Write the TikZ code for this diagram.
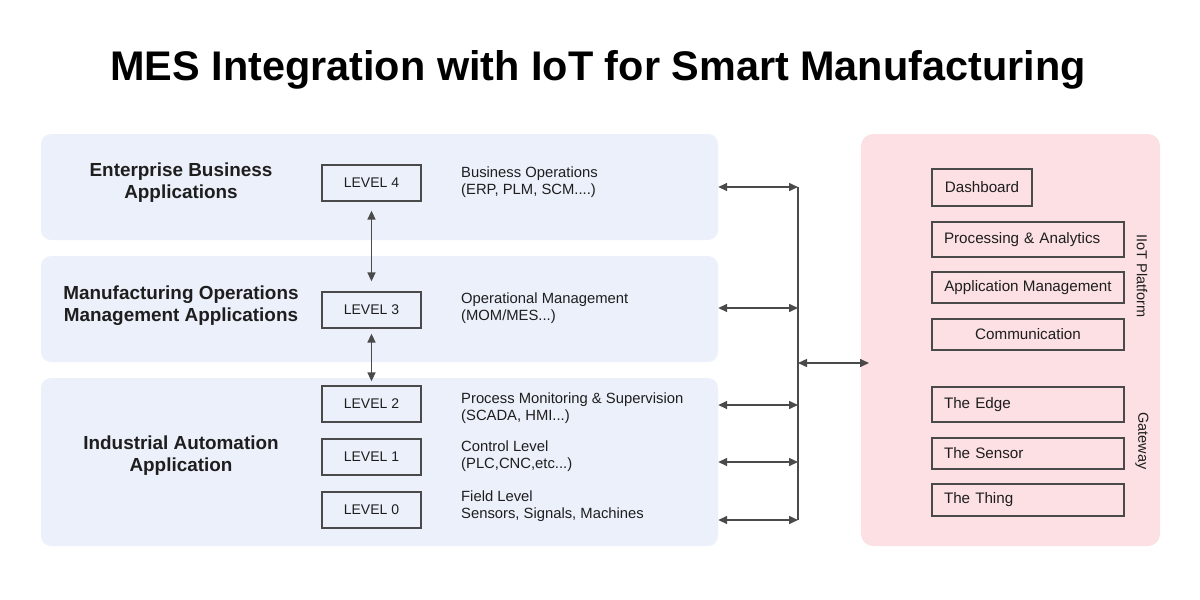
\documentclass[tikz,border=0pt]{standalone}
\usepackage{fontspec}
\setmainfont{Liberation Sans}
\usetikzlibrary{arrows.meta}
\definecolor{panelblue}{HTML}{EBF0FA}
\definecolor{panelpink}{HTML}{FCE0E3}
\definecolor{ink}{HTML}{1E1E1E}
\definecolor{edge}{HTML}{4A4A4A}
\tikzset{
  x=1pt,y=-1pt,
  panel/.style={fill=panelblue,draw=none,rounded corners=10pt,inner sep=0pt},
  pinkpanel/.style={fill=panelpink,draw=none,rounded corners=12pt,inner sep=0pt},
  levelbox/.style={draw=edge,line width=1.3pt,fill=none,minimum width=99pt,minimum height=36pt,inner sep=0pt,font=\fontsize{14}{16}\selectfont,text=ink},
  desc/.style={anchor=west,align=left,inner sep=0pt,font=\fontsize{14.8}{16.5}\selectfont,text=ink},
  grouplabel/.style={align=center,inner sep=0pt,font=\bfseries\fontsize{18.9}{22}\selectfont,text=ink},
  iotbox/.style={draw=edge,line width=1.3pt,inner sep=0pt,font=\fontsize{15.2}{17}\selectfont,text=ink},
  sidelabel/.style={rotate=-90,inner sep=0pt,font=\fontsize{14.5}{17}\selectfont,text=ink},
  arr/.style={draw=edge,line width=1.5pt,{Triangle[length=9pt,width=8pt]}-{Triangle[length=9pt,width=8pt]}},
  bus/.style={draw=edge,line width=1.5pt}
}
\begin{document}
\begin{tikzpicture}
\useasboundingbox (0,0) rectangle (1200,600);
% title
\node[font=\bfseries\fontsize{41.4}{48}\selectfont,text=black,inner sep=0pt] (title) at (598,70) {MES Integration with IoT for Smart Manufacturing};
% panels
\node[panel,minimum width=677pt,minimum height=106pt] (p1) at (379.5,187) {};
\node[panel,minimum width=677pt,minimum height=106pt] (p2) at (379.5,309) {};
\node[panel,minimum width=677pt,minimum height=168pt] (p3) at (379.5,462) {};
\node[pinkpanel,minimum width=299pt,minimum height=412pt] (pk) at (1010.5,340) {};
% group labels
\node[grouplabel] (g1) at (181,183) {Enterprise Business\\Applications};
\node[grouplabel] (g2) at (181,306) {Manufacturing Operations\\Management Applications};
\node[grouplabel] (g3) at (181,456) {Industrial Automation\\Application};
% level boxes
\node[levelbox] (l4) at (371.5,183) {LEVEL 4};
\node[levelbox] (l3) at (371.5,310) {LEVEL 3};
\node[levelbox] (l2) at (371.5,404) {LEVEL 2};
\node[levelbox] (l1) at (371.5,457) {LEVEL 1};
\node[levelbox] (l0) at (371.5,510) {LEVEL 0};
% descriptions
\node[desc] (d4) at (461,182) {Business Operations\\(ERP, PLM, SCM....)};
\node[desc] (d3) at (461,308) {Operational Management\\(MOM/MES...)};
\node[desc] (d2) at (461,408) {Process Monitoring \& Supervision\\(SCADA, HMI...)};
\node[desc] (d1) at (461,456) {Control Level\\(PLC,CNC,etc...)};
\node[desc] (d0) at (461,506) {Field Level\\Sensors, Signals, Machines};
% vertical level arrows
\draw[arr] ([yshift=-9pt]l4.south) -- ([yshift=10pt]l3.north);
\draw[arr] ([yshift=-5pt]l3.south) -- ([yshift=4pt]l2.north);
% bus coordinates
\coordinate (b4) at (798,187);
\coordinate (b3) at (798,308);
\coordinate (b2) at (798,405);
\coordinate (b1) at (798,462);
\coordinate (b0) at (798,520);
\coordinate (bm) at (798,363);
\coordinate (pin) at (869,363);
\draw[bus] (b4) -- (b0);
\draw[arr] (p1.east |- b4) -- (b4);
\draw[arr] (p2.east |- b3) -- (b3);
\draw[arr] (p3.east |- b2) -- (b2);
\draw[arr] (p3.east |- b1) -- (b1);
\draw[arr] (p3.east |- b0) -- (b0);
\draw[arr] (bm) -- (pin);
% IoT boxes
\node[iotbox,minimum width=100pt,minimum height=37pt] (dash) at (982,187.5) {Dashboard};
\node[iotbox,minimum width=192pt,minimum height=35pt,text width=168pt,align=left] (proc) at (1028,239.5) {Processing \& Analytics};
\node[iotbox,minimum width=192pt,minimum height=31pt,align=center] (appm) at (1028,287.5) {Application Management};
\node[iotbox,minimum width=192pt,minimum height=31pt,align=center] (comm) at (1028,334.5) {Communication};
\node[iotbox,minimum width=192pt,minimum height=35pt,text width=168pt,align=left] (edgeb) at (1028,404.5) {The Edge};
\node[iotbox,minimum width=192pt,minimum height=31pt,text width=168pt,align=left] (sens) at (1028,453.5) {The Sensor};
\node[iotbox,minimum width=192pt,minimum height=32pt,text width=168pt,align=left] (thing) at (1028,500) {The Thing};
% side labels
\node[sidelabel] (iiot) at (1142,276) {IIoT Platform};
\node[sidelabel] (gw) at (1142,441) {Gateway};
\end{tikzpicture}
\end{document}
